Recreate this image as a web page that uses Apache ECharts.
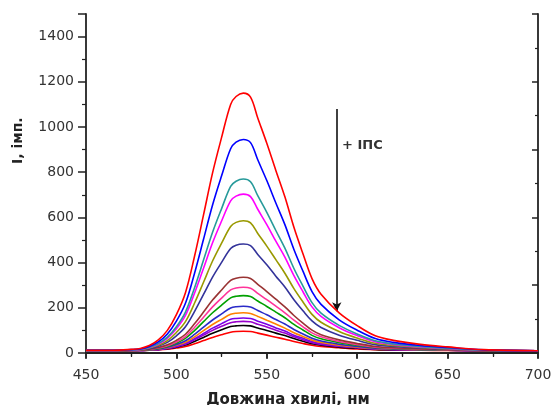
<!DOCTYPE html>
<html><head><meta charset="utf-8">
<script src="https://cdn.jsdelivr.net/npm/echarts@6/dist/echarts.min.js"></script>
<style>html,body{margin:0;padding:0;background:#fff}#c{width:552px;height:405px}</style>
</head><body><div id="c"></div>
<script>
// Wavelength grid (nm)
var wavelength = [450,465,475,480,485,490,495,500,505,510,515,520,525,530,533,537,541,545,550,555,560,565,570,575,580,590,600,610,620,635,650,670,700];
// Fluorescence intensity curves, decreasing with added IPS
var s1  = [12,12,16,20,33,58,100,170,267,427,611,797,954,1100,1135,1150,1132,1040,928,808,691,556,439,329,260,178,121,76,56,38,27,15,10];
var s2  = [12,12,15,18,29,49,84,141,220,352,503,655,784,904,933,945,931,855,763,664,568,458,362,272,215,147,101,64,47,33,24,14,10];
var s3  = [12,12,14,17,25,42,70,116,181,288,411,534,639,737,760,770,758,696,622,542,464,374,296,223,176,122,84,54,40,29,21,13,10];
var s4  = [11,11,13,16,24,39,65,107,166,264,375,488,584,673,694,703,692,636,568,495,424,342,271,204,162,112,77,50,38,27,20,13,10];
var s5  = [11,11,13,15,22,34,55,91,139,220,313,407,486,560,578,585,576,529,473,413,353,285,226,171,136,95,66,43,33,24,19,12,10];
var s6  = [11,11,12,14,19,30,47,76,116,183,259,336,401,462,477,482,475,436,390,340,292,236,187,142,113,79,56,37,29,22,17,12,10];
var s7  = [11,11,12,13,17,24,36,56,83,129,181,234,279,321,331,335,330,304,272,238,204,166,132,101,81,58,42,29,23,18,15,11,10];
var s8  = [11,11,11,13,16,22,32,49,73,113,158,204,243,279,288,291,287,264,236,207,178,145,116,89,72,51,37,26,21,17,14,11,10];
var s9  = [10,10,11,12,15,20,29,44,65,99,139,178,212,244,251,254,250,230,206,181,156,127,102,78,63,46,34,24,20,16,14,11,10];
var s10 = [10,10,11,12,14,18,26,38,54,82,114,146,173,199,205,207,204,188,169,148,128,104,84,65,53,39,29,21,18,15,13,11,10];
var s11 = [10,10,11,12,13,17,23,34,48,71,99,126,149,171,176,178,175,162,145,128,110,90,73,57,47,35,26,20,17,14,13,11,10];
var s12 = [10,10,11,11,13,16,21,30,43,63,86,110,130,149,153,155,153,141,127,111,97,79,65,51,42,31,24,18,16,14,12,11,10];
var s13 = [10,10,11,11,13,15,20,28,39,58,79,100,118,134,138,140,138,127,115,101,88,72,59,46,38,29,23,18,15,13,12,11,10];
var s14 = [10,10,11,11,12,15,19,26,35,51,69,87,103,117,120,122,120,111,100,88,77,64,52,41,35,26,21,16,14,13,12,10,10];
var s15 = [10,10,10,11,12,14,17,22,29,41,55,69,81,92,95,96,95,88,79,70,61,51,42,34,29,23,18,15,13,12,11,10,10];
var seriesData = [s1,s2,s3,s4,s5,s6,s7,s8,s9,s10,s11,s12,s13,s14,s15];
var colors = ['#ff0000','#0000ff','#279a9a','#ff00ff','#999900','#33339a','#993333','#ff3399','#00a000','#2a2ac8','#ff8000','#7a00e6','#9900cc','#000000','#ff0000'];
// Tick labels
var xTicks = [450,500,550,600,650,700];
var yTicks = [0,200,400,600,800,1000,1200,1400];
var arrowX = 588.7, arrowTop = 1080, arrowBottom = 185;

var chart = echarts.init(document.getElementById('c'), null, {renderer:'canvas'});
var font = 'DejaVu Sans';
var axisCol = '#222';
var series = seriesData.map(function(d,i){
  return {type:'line', data: wavelength.map(function(x,j){return [x,d[j]];}), symbol:'none', smooth:0.35,
    lineStyle:{color:colors[i], width:1.6}, itemStyle:{color:colors[i]}, z: 20-i, silent:true};
});
series.push({type:'line', data:[], silent:true,
  markLine:{silent:true, symbol:['none','arrow'], symbolSize:[7,9],
    lineStyle:{color:'#111', width:1.6, type:'solid'}, label:{show:false},
    data:[[{coord:[arrowX,arrowTop]},{coord:[arrowX,arrowBottom]}]]}});

chart.setOption({
  animation:false,
  backgroundColor:'#fff',
  grid:{left:86, right:14, top:14, bottom:52, containLabel:false, outerBoundsMode:'none'},
  xAxis:[{type:'value', min:450, max:700, interval:50, position:'bottom',
    axisLine:{lineStyle:{color:axisCol, width:1.8}},
    axisTick:{inside:false, length:6, lineStyle:{color:axisCol, width:1.5}},
    minorTick:{show:true, splitNumber:2, length:4, lineStyle:{color:axisCol, width:1.2}},
    splitLine:{show:false},
    axisLabel:{color:'#333', fontFamily:font, fontSize:14, margin:15,
      formatter:function(v){return xTicks.indexOf(v)>=0? String(v):'';}},
    name:'Довжина хвилі, нм', nameLocation:'middle', nameGap:40,
    nameTextStyle:{fontFamily:font, fontWeight:'bold', fontSize:15, color:'#222', padding:[0,48,0,0]}
  },{type:'value', min:450, max:700, interval:50, position:'top',
    axisLine:{lineStyle:{color:axisCol, width:1.8}},
    axisTick:{inside:true, length:5, lineStyle:{color:axisCol, width:1.5}},
    minorTick:{show:true, splitNumber:2, length:3, lineStyle:{color:axisCol, width:1.2}},
    splitLine:{show:false}, axisLabel:{show:false}}],
  yAxis:[{type:'value', min:0, max:1500, interval:200, position:'left',
    axisLine:{lineStyle:{color:axisCol, width:1.8}},
    axisTick:{inside:false, length:8, lineStyle:{color:axisCol, width:1.5}},
    minorTick:{show:true, splitNumber:2, length:4, lineStyle:{color:axisCol, width:1.2}},
    splitLine:{show:false},
    axisLabel:{color:'#333', fontFamily:font, fontSize:14, margin:12, showMaxLabel:false,
      formatter:function(v){return yTicks.indexOf(v)>=0? String(v):'';}}
  },{type:'value', min:0, max:5, interval:1, position:'right',
    axisLine:{lineStyle:{color:axisCol, width:1.8}},
    axisTick:{inside:true, length:6, lineStyle:{color:axisCol, width:1.5}},
    minorTick:{show:true, splitNumber:2, length:3, lineStyle:{color:axisCol, width:1.2}},
    splitLine:{show:false}, axisLabel:{show:false}}],
  graphic:[
    {type:'text', x:11, y:164, rotation:Math.PI/2, style:{text:'I, імп.', fontFamily:font, fontWeight:'bold', fontSize:14, fill:'#222'}},
    {type:'text', left:342, top:139, style:{text:'+ ІПС', fontFamily:font, fontWeight:'bold', fontSize:13, fill:'#333'}}
  ],
  series: series
});
</script></body></html>
